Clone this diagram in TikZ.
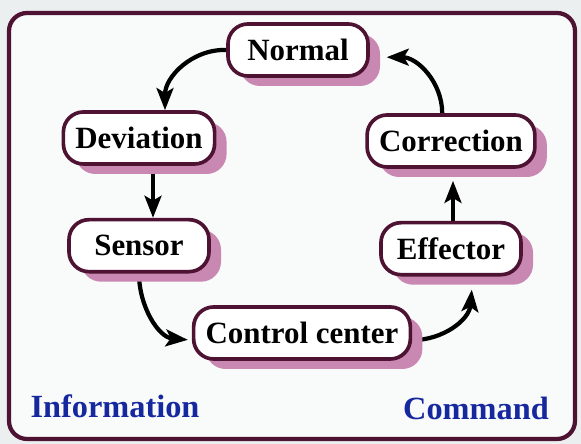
\documentclass[tikz,border=0pt]{standalone}
\usepackage{fontspec}
\setmainfont{Liberation Serif}
\usetikzlibrary{positioning,shadows,arrows.meta,backgrounds}

\definecolor{rim}{RGB}{78,18,50}
\definecolor{blush}{RGB}{200,136,178}
\definecolor{ink}{RGB}{22,40,158}
\definecolor{paper}{RGB}{249,250,250}
\definecolor{desk}{RGB}{236,239,239}

\tikzset{
  stage/.style={draw=rim, line width=2.6pt, fill=white, rounded corners=0.5cm,
    minimum width=3.5cm, minimum height=1.3cm, inner xsep=0.3cm,
    font=\fontsize{22}{26}\selectfont\bfseries,
    drop shadow={shadow xshift=0.3cm, shadow yshift=-0.25cm, fill=blush, opacity=1}},
  flow/.style={line width=3pt, -{Stealth[length=0.55cm,width=0.42cm,inset=0.12cm]}},
  tag/.style={text=ink, font=\fontsize{23}{27}\selectfont\bfseries}
}

\begin{document}
\begin{tikzpicture}[x=0.025cm,y=0.025cm,node distance=1.3cm]
   \useasboundingbox (0,0) rectangle (581,444);

   \node[stage]                  (N)  at (298,394) {Normal} ; %
   \node[stage]                  (D)  at (139,306) {Deviation} ; %
   \node[stage, below=of D]      (S)               {Sensor} ; %
   \node[stage]                  (Co) at (451,303) {Correction} ; %
   \node[stage, below=of Co]     (E)               {Effector} ; %
   \node[stage]                  (C)  at (302,111) {Control center} ; %

   \node[tag] (info) at (115,38) {Information} ; %
   \node[tag] (cmd)  at (476,36) {Command} ;

   % frame and arrows sit under the boxes and their shadows
   \begin{scope}[on background layer]
      \fill[desk] (0,0) rectangle (581,444);
      \draw[rim, line width=3pt, fill=paper, rounded corners=0.45cm] (9,5) rectangle (575,431);

      \draw[flow] (N.west) to[out=178,in=90] ([xshift=0.65cm]D.north) ;
      \draw[flow] ([xshift=0.35cm]D.south) -- ([xshift=0.35cm]S.north) ;
      \draw[flow, shorten >=0.1cm] (S.south) to[out=-90,in=175] ([yshift=-0.18cm]C.west) ;
      \draw[flow] ([yshift=-0.18cm]C.east) to[out=0,in=-95] ([xshift=0.52cm,yshift=-0.33cm]E.south) ;
      \draw[flow] ([xshift=0.05cm]E.north) -- ([xshift=0.05cm,yshift=-0.3cm]E.north |- Co.south) ;
      \draw[flow] ([xshift=-0.22cm]Co.north) to[out=90,in=0] ([xshift=0.42cm,yshift=-0.18cm]N.east) ;
   \end{scope}

\end{tikzpicture}
\end{document}
